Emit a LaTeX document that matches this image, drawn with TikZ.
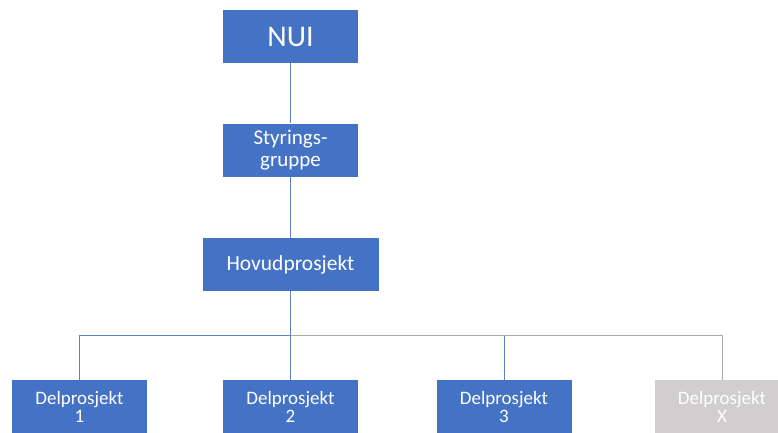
\documentclass[tikz,border=0pt]{standalone}
\usepackage{fontspec}
\setmainfont{Carlito}
\definecolor{boxblue}{HTML}{4472C4}
\definecolor{boxgray}{HTML}{D0CECE}
\definecolor{lineblue}{HTML}{5F82C6}
\definecolor{linegray}{HTML}{A9A9A9}
\begin{document}
\begin{tikzpicture}[x=1pt,y=-1pt,
  orgbox/.style={fill=boxblue,draw=none,text=white,align=center,inner sep=0pt,
    minimum width=135pt,minimum height=53pt,font=\fontsize{19}{18}\selectfont},
  graybox/.style={orgbox,fill=boxgray},
  conn/.style={draw=lineblue,line width=1pt},
  conngray/.style={draw=linegray,line width=1pt}]
\clip (0,0) rectangle (778,432);
\fill[white] (0,0) rectangle (778,432);
\node[orgbox,font=\fontsize{30}{34}\selectfont] (nui) at (290.5,36.5) {NUI};
\node[orgbox,font=\fontsize{21}{22}\selectfont] (styr) at (290.5,150) {Styrings-\\gruppe};
\node[orgbox,minimum width=176pt,font=\fontsize{21.5}{24}\selectfont] (hov) at (290.5,264.5) {Hovudprosjekt};
\node[orgbox] (d1) at (79.5,406.5) {Delprosjekt\\1};
\node[orgbox] (d2) at (290.5,406.5) {Delprosjekt\\2};
\node[orgbox] (d3) at (504,406.5) {Delprosjekt\\3};
\node[graybox] (dx) at (722,406.5) {Delprosjekt\\X};
\coordinate (bus) at (290.5,335.5);
\draw[conn] (nui.south) -- (styr.north);
\draw[conn] (styr.south) -- (hov.north);
\draw[conn] (hov.south) -- (bus) -| (d1.north);
\draw[conn] (hov.south) -- (d2.north);
\draw[conn] (bus) -| (d3.north);
\draw[conngray] (bus) -| (dx.north);
\end{tikzpicture}
\end{document}
